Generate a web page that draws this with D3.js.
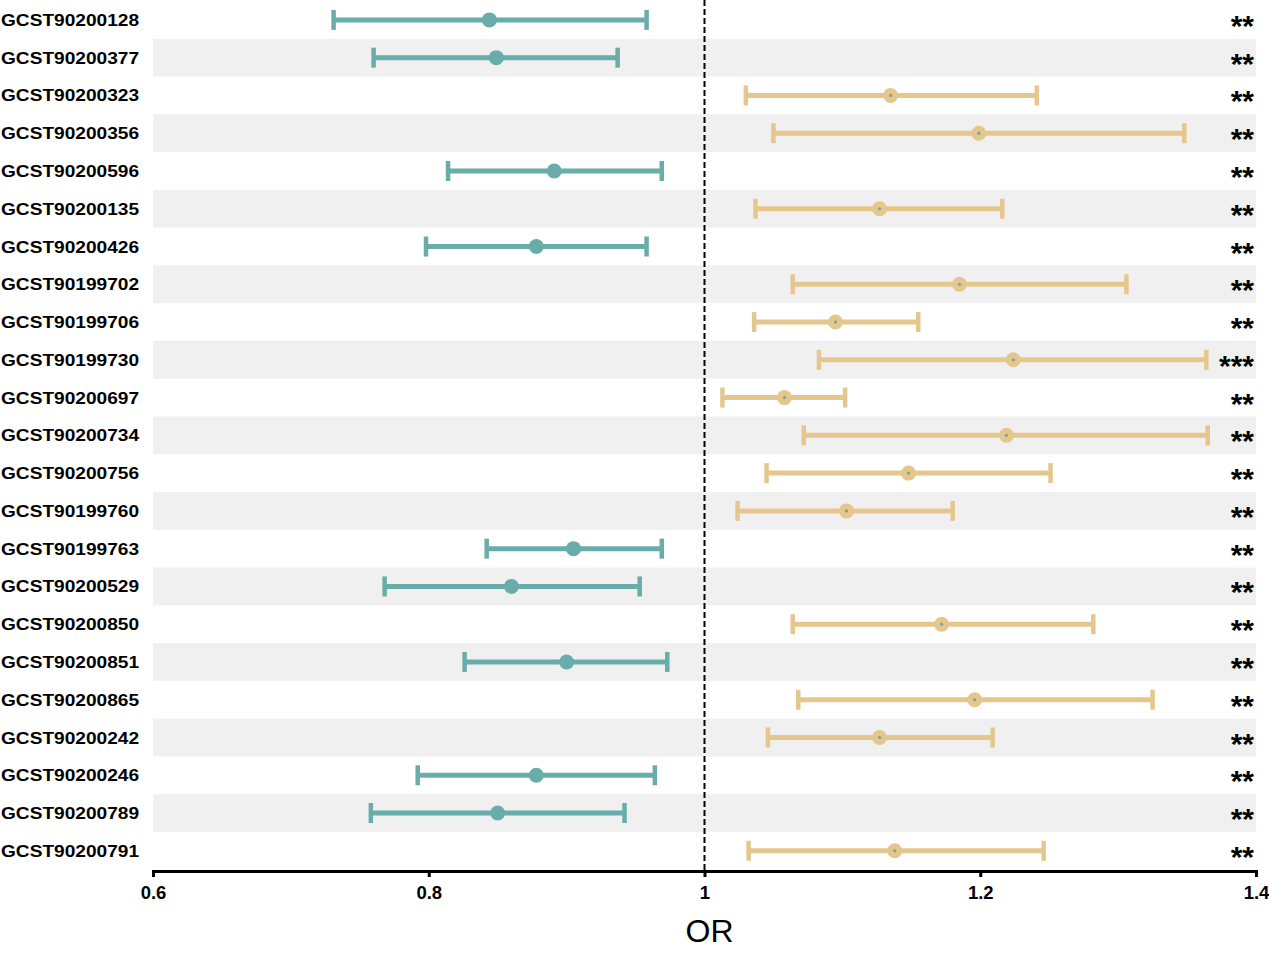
<!DOCTYPE html>
<html>
<head>
<meta charset="utf-8">
<script src="https://cdn.jsdelivr.net/npm/d3@7"></script>
<style>
  body { margin: 0; background: #fff; }
  svg { display: block; font-family: "Liberation Sans", Arial, sans-serif; }
</style>
</head>
<body>
<div id="chart"></div>
<script>
// --------- data ---------- //
var ids = ["GCST90200128","GCST90200377","GCST90200323","GCST90200356","GCST90200596",
  "GCST90200135","GCST90200426","GCST90199702","GCST90199706","GCST90199730",
  "GCST90200697","GCST90200734","GCST90200756","GCST90199760","GCST90199763",
  "GCST90200529","GCST90200850","GCST90200851","GCST90200865","GCST90200242",
  "GCST90200246","GCST90200789","GCST90200791"];
var orValues = [0.844,0.849,1.135,1.199,0.891,1.127,0.878,1.185,1.095,1.224,
  1.058,1.219,1.148,1.103,0.905,0.860,1.172,0.900,1.196,1.127,0.878,0.850,1.138];
var lower = [0.731,0.760,1.030,1.050,0.814,1.037,0.798,1.064,1.036,1.083,
  1.013,1.072,1.045,1.024,0.842,0.768,1.064,0.826,1.068,1.046,0.792,0.758,1.032];
var upper = [0.958,0.937,1.241,1.348,0.969,1.216,0.958,1.306,1.155,1.364,
  1.102,1.365,1.251,1.180,0.969,0.953,1.282,0.973,1.325,1.209,0.964,0.942,1.246];
var stars = ["**","**","**","**","**","**","**","**","**","***","**","**",
  "**","**","**","**","**","**","**","**","**","**","**"];
var xTicks = [0.6, 0.8, 1, 1.2, 1.4];

(function(){
  var rows = ids.map(function(d, i){
    return {id: d, or: orValues[i], lo: lower[i], hi: upper[i], sig: stars[i]};
  });

  // --------- layout ---------- //
  var W = 1269, H = 953;
  var mLeft = 153, mRight = 1256, mTop = 1, mBottom = 869.7;
  var axisY = 871;
  var teal = "#68adaa", gold = "#e5c78d";

  var svg = d3.select("#chart").append("svg")
    .attr("width", W).attr("height", H);

  var x = d3.scaleLinear().domain([0.6, 1.4]).range([mLeft, mRight]);
  var y = d3.scaleBand().domain(ids).range([mTop, mBottom]).padding(0);
  var bw = y.bandwidth();

  // stripes
  svg.append("g").selectAll("rect")
    .data(rows.filter(function(d, i){ return i % 2 === 1; }))
    .enter().append("rect")
    .attr("x", mLeft).attr("width", mRight - mLeft)
    .attr("y", function(d){ return y(d.id); })
    .attr("height", bw)
    .attr("fill", "#f0f0f0");

  // reference line
  svg.append("line")
    .attr("x1", x(1)).attr("x2", x(1))
    .attr("y1", 0).attr("y2", axisY)
    .attr("stroke", "#000").attr("stroke-width", 2)
    .attr("stroke-dasharray", "6,3");

  // error bars
  var g = svg.append("g").selectAll("g").data(rows).enter().append("g")
    .attr("transform", function(d){ return "translate(0," + (y(d.id) + bw / 2) + ")"; });

  function col(d){ return d.or < 1 ? teal : gold; }

  g.append("line")
    .attr("x1", function(d){ return x(d.lo); })
    .attr("x2", function(d){ return x(d.hi); })
    .attr("stroke", col).attr("stroke-width", 5);

  g.append("line")
    .attr("x1", function(d){ return x(d.lo); })
    .attr("x2", function(d){ return x(d.lo); })
    .attr("y1", -10).attr("y2", 10)
    .attr("stroke", col).attr("stroke-width", 4.5);

  g.append("line")
    .attr("x1", function(d){ return x(d.hi); })
    .attr("x2", function(d){ return x(d.hi); })
    .attr("y1", -10).attr("y2", 10)
    .attr("stroke", col).attr("stroke-width", 4.5);

  g.append("circle")
    .attr("cx", function(d){ return x(d.or); })
    .attr("r", 7.5)
    .attr("fill", col);

  g.filter(function(d){ return d.or >= 1; }).append("circle")
    .attr("cx", function(d){ return x(d.or); })
    .attr("r", 1.6)
    .attr("fill", "#6ea99a");

  // labels
  g.append("text")
    .attr("x", 139).attr("y", 6)
    .attr("text-anchor", "end")
    .style("font-size", "16.5px").style("font-weight", "bold")
    .attr("textLength", 138).attr("lengthAdjust", "spacingAndGlyphs")
    .text(function(d){ return d.id; });

  g.append("text")
    .attr("x", 1254).attr("y", 16)
    .attr("text-anchor", "end")
    .style("font-size", "30px").style("font-weight", "bold")
    .text(function(d){ return d.sig; });

  // x axis
  var axis = svg.append("g")
    .attr("transform", "translate(0," + axisY + ")")
    .call(d3.axisBottom(x).tickValues(xTicks).tickSize(6).tickPadding(9)
      .tickFormat(function(d){ return String(d); }));
  axis.select(".domain").attr("stroke-width", 3);
  axis.selectAll(".tick line").attr("stroke-width", 3);
  axis.selectAll(".tick text")
    .style("font-size", "18.5px").style("font-weight", "bold")
    .style("font-family", "'Liberation Sans', Arial, sans-serif")
    .attr("fill", "#000");

  svg.append("text")
    .attr("x", x(1) + 5).attr("y", 942)
    .attr("text-anchor", "middle")
    .style("font-size", "32px")
    .text("OR");
})();
</script>
</body>
</html>
